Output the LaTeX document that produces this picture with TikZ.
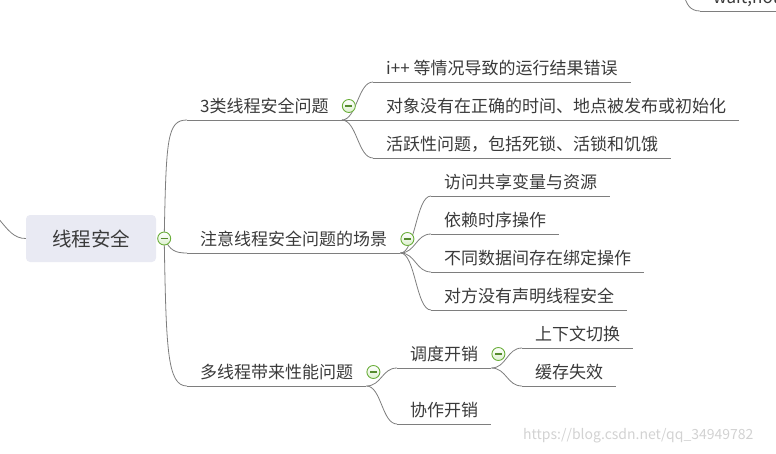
\documentclass[tikz,border=0pt]{standalone}
\usepackage{fontspec}
\setmainfont{Noto Sans CJK SC}
\definecolor{txt}{HTML}{3A3A3A}
\definecolor{lnc}{HTML}{7E7E7E}
\definecolor{rootfill}{HTML}{E9EAF3}
\definecolor{kgreen}{HTML}{6AAE3A}
\definecolor{kfill}{HTML}{DDF0CF}
\definecolor{wm}{HTML}{D2D2D2}
\tikzset{
  topic/.style={anchor=south west, inner xsep=13pt, inner ysep=3.5pt,
    text height=13pt, text depth=4pt, text=txt,
    font=\fontsize{17}{20}\selectfont},
  rootbox/.style={fill=rootfill, rounded corners=4pt, minimum width=130pt,
    minimum height=47pt, text=txt, font=\fontsize{19.5}{22}\selectfont},
  knob/.style={circle, draw=kgreen, line width=0.9pt, minimum size=13pt, inner sep=0pt,
    top color=white, bottom color=kfill,
    path picture={\draw[kgreen!80!black, line width=1.3pt]
      ([xshift=-3.4pt]path picture bounding box.center) -- ([xshift=3.4pt]path picture bounding box.center);}},
  conn/.style={draw=lnc, line width=0.8pt},
}
\begin{document}
\begin{tikzpicture}[x=1pt, y=-1pt]
\useasboundingbox (0,0) rectangle (776,453);
\clip (0,0) rectangle (776,453);

% root
\node[rootbox] (root) at (91,238.5) {线程安全};
\coordinate (rk) at ([xshift=8pt]root.east);
\coordinate (lin) at (-2,218);

% main branches
\node[topic] (b1) at (187,120) {3类线程安全问题};
\node[topic] (b2) at (187,253) {注意线程安全问题的场景};
\node[topic] (b3) at (187,386) {多线程带来性能问题};

% branch 1 children
\node[topic] (c1) at (373,82) {i++ 等情况导致的运行结果错误};
\node[topic] (c2) at (373,120) {对象没有在正确的时间、地点被发布或初始化};
\node[topic] (c3) at (373,158) {活跃性问题，包括死锁、活锁和饥饿};

% branch 2 children
\node[topic] (d1) at (431,196) {访问共享变量与资源};
\node[topic] (d2) at (431,234) {依赖时序操作};
\node[topic] (d3) at (431,272) {不同数据间存在绑定操作};
\node[topic] (d4) at (431,310) {对方没有声明线程安全};

% branch 3 children
\node[topic] (e1) at (397,368) {调度开销};
\node[topic] (e2) at (397,424) {协作开销};
\node[topic] (f1) at (522,348) {上下文切换};
\node[topic] (f2) at (522,386) {缓存失效};

% partial node top right
\coordinate (tr0) at (684,-6);
\node[topic] (wn) at (700,11) {wait,notify};

% underlines
\foreach \n in {b1,b2,b3,c1,c2,c3,d1,d2,d3,d4,e1,e2,f1,f2,wn}
  \draw[conn] (\n.south west) -- (\n.south east);

% connectors
\draw[conn] (lin) .. controls +(10,12) and +(-12,0) .. (root.west);
\draw[conn] (rk) .. controls +(2,-100) and +(-20,0) .. (b1.south west);
\draw[conn] (rk) .. controls +(6,12) and +(-12,0) .. (b2.south west);
\draw[conn] (rk) .. controls +(2,110) and +(-20,0) .. (b3.south west);
\foreach \c in {c1,c2,c3}
  \draw[conn] (b1.south east) .. controls +(15,0) and +(-15,0) .. (\c.south west);
\foreach \c in {d1,d2,d3,d4}
  \draw[conn] (b2.south east) .. controls +(15,0) and +(-15,0) .. (\c.south west);
\foreach \c in {e1,e2}
  \draw[conn] (b3.south east) .. controls +(15,0) and +(-15,0) .. (\c.south west);
\foreach \c in {f1,f2}
  \draw[conn] (e1.south east) .. controls +(15,0) and +(-15,0) .. (\c.south west);
\draw[conn] (tr0) .. controls +(2,10) and +(-10,0) .. (wn.south west);

% knobs
\node[knob] (k0) at (rk) {};
\node[knob] (k1) at ([xshift=7pt,yshift=14pt]b1.south east) {};
\node[knob] (k2) at ([xshift=7pt,yshift=14pt]b2.south east) {};
\node[knob] (k3) at ([xshift=7pt,yshift=14pt]b3.south east) {};
\node[knob] (k4) at ([xshift=7pt,yshift=14pt]e1.south east) {};

% watermark
\node[anchor=west, text=wm, inner sep=0pt, font=\fontsize{14}{17}\selectfont] (wmk) at (523,436) {https://blog.csdn.net/qq\_34949782};
\end{tikzpicture}
\end{document}
